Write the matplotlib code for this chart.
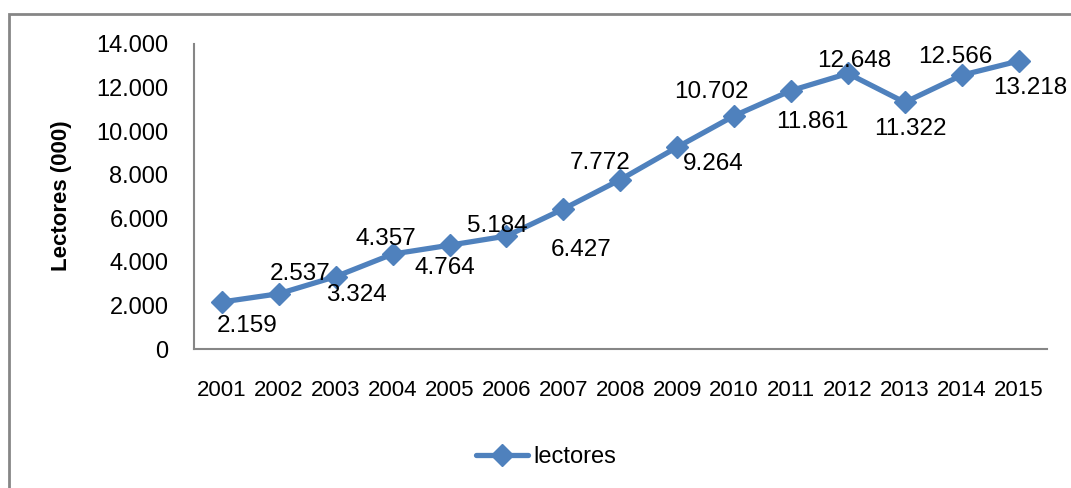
import matplotlib.pyplot as plt
from matplotlib.patches import Rectangle
from matplotlib.ticker import FuncFormatter

plt.rcParams['font.family'] = ['Liberation Sans', 'DejaVu Sans']

years = ['2001', '2002', '2003', '2004', '2005', '2006', '2007', '2008',
         '2009', '2010', '2011', '2012', '2013', '2014', '2015']
lectores = [2159, 2537, 3324, 4357, 4764, 5184, 6427, 7772,
            9264, 10702, 11861, 12648, 11322, 12566, 13218]
# label offsets in pixels (dx, dy), Excel placed them by hand-ish
label_off = [(25, -24), (21, 20), (21, -18), (-7, 15), (-5, -23), (-9, 10),
             (18, -41), (-20, 17), (36, -17), (-23, 24), (21, -31), (6, 12),
             (6, -27), (-6, 18), (12, -27)]

blue = '#4F81BD'
grey = '#868686'

fig = plt.figure(figsize=(10.71, 4.88), dpi=100)
fig.patches.append(Rectangle((9 / 1071, -0.1), 1.2, 1 - 14 / 488 + 0.1,
                             transform=fig.transFigure, fill=False,
                             edgecolor=grey, linewidth=2))

ax = fig.add_axes([193.5 / 1071, 1 - 349 / 488, (1047 - 193.5) / 1071, 305 / 488])
x = range(len(years))
line, = ax.plot(x, lectores, color=blue, lw=3.8, marker='D', ms=11,
                label='lectores', solid_capstyle='round')

for i, v in enumerate(lectores):
    dx, dy = label_off[i]
    ax.annotate(f'{v:,}'.replace(',', '.'), (i, v), xytext=(dx, dy),
                textcoords='offset pixels', ha='center', va='center',
                fontsize=17.5, color='black')

ax.set_xlim(-0.5, len(years) - 0.5)
ax.set_ylim(0, 14000)
ax.set_yticks(range(0, 14001, 2000))
ax.yaxis.set_major_formatter(FuncFormatter(lambda v, p: f'{int(v):,}'.replace(',', '.')))
ax.set_xticks(list(x))
ax.set_xticklabels(years)
ax.tick_params(axis='both', length=0)
ax.tick_params(axis='y', pad=18, labelsize=17)
ax.tick_params(axis='x', pad=22, labelsize=16)
for s in ['top', 'right']:
    ax.spines[s].set_visible(False)
for s in ['left', 'bottom']:
    ax.spines[s].set_color(grey)
    ax.spines[s].set_linewidth(1.5)

fig.text(62 / 1071, 1 - 196 / 488, 'Lectores (000)', rotation=90, ha='center',
         va='center', fontsize=16, fontweight='bold')

fig.legend(handles=[line], loc='center', bbox_to_anchor=(546 / 1071, 1 - 457 / 488),
           frameon=False, fontsize=17, handlelength=2.2, handletextpad=0.2)

fig.savefig('out.png', dpi=100)
